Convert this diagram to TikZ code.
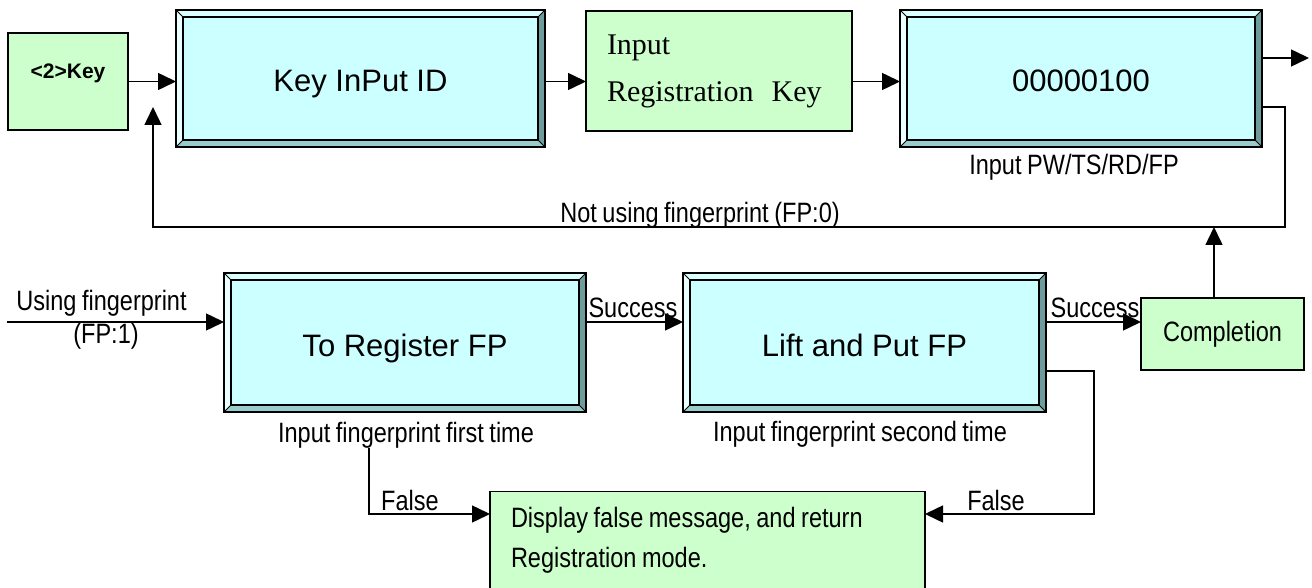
\documentclass[tikz,border=0pt]{standalone}
\usepackage{fontspec}
\setmainfont{Liberation Sans}
\newfontfamily\narrowfont[FakeStretch=0.84,WordSpace=0.85]{Liberation Sans}
\newfontfamily\batangfont{Liberation Serif}
\usetikzlibrary{arrows.meta}
\definecolor{lcdcyan}{HTML}{CCFFFF}
\definecolor{notegreen}{HTML}{CCFFCC}
\definecolor{bvtop}{HTML}{D9FFFF}
\definecolor{bvleft}{HTML}{EAFFFF}
\definecolor{bvbot}{HTML}{99CCCC}
\definecolor{bvright}{HTML}{6E9C9C}
\newcommand{\lcdframe}[1]{%
\fill[bvtop] (#1.north west) -- (#1.north east) -- ([shift={(-7,7)}]#1.north east) -- ([shift={(7,7)}]#1.north west) -- cycle;
\fill[bvleft] (#1.north west) -- ([shift={(7,7)}]#1.north west) -- ([shift={(7,-7)}]#1.south west) -- (#1.south west) -- cycle;
\fill[bvbot] (#1.south west) -- ([shift={(7,-7)}]#1.south west) -- ([shift={(-7,-7)}]#1.south east) -- (#1.south east) -- cycle;
\fill[bvright] (#1.south east) -- ([shift={(-7,-7)}]#1.south east) -- ([shift={(-7,7)}]#1.north east) -- (#1.north east) -- cycle;
\draw[line width=1.5pt] (#1.north west) rectangle (#1.south east);
\draw[line width=1.5pt] ([shift={(7,7)}]#1.north west) rectangle ([shift={(-7,-7)}]#1.south east);
\draw[line width=1pt] (#1.north west) -- ++(7,7) (#1.north east) -- ++(-7,7) (#1.south west) -- ++(7,-7) (#1.south east) -- ++(-7,-7);
}
\begin{document}
\begin{tikzpicture}[x=1pt,y=-1pt,
  every node/.style={inner sep=0pt, outer sep=0pt},
  lcd/.style={fill=lcdcyan, text height=30pt, text depth=3pt, font=\fontsize{31}{37}\selectfont},
  note/.style={draw, line width=1.5pt, fill=notegreen},
  lbl/.style={font=\narrowfont\fontsize{28}{32}\selectfont, anchor=base},
  flow/.style={line width=1.5pt, -{Triangle[length=18pt,width=17pt]}},
  line/.style={line width=1.5pt}]
\useasboundingbox (0,0) rectangle (1312,588);
\node[note, minimum width=120pt, minimum height=97pt, text height=16pt, text depth=21pt, font=\bfseries\fontsize{21}{25}\selectfont] (key) at (68,81.5) {<2>Key};
\node[lcd, minimum width=369pt, minimum height=137pt] (kid) at (360.5,78.5) {Key InPut ID};
\node[note, minimum width=266pt, minimum height=120pt, text width=224pt, align=flush left, font=\batangfont\fontsize{30}{47}\selectfont] (ireg) at (719,71) {Input\\Registration\hspace{0.6em}Key};
\node[lcd, minimum width=362pt, minimum height=137pt] (pw) at (1081,78.5) {00000100};
\node[lbl] (pwtxt) at (1074,175) {Input PW/TS/RD/FP};
\node[lbl] (fp0) at (700,223) {Not using fingerprint (FP:0)};
\node[lcd, minimum width=362pt, minimum height=139pt] (reg) at (405,342.5) {To Register FP};
\node[lcd, minimum width=363pt, minimum height=139pt] (lift) at (864.5,342.5) {Lift and Put FP};
\node[note, minimum width=163pt, minimum height=72pt, font=\narrowfont\fontsize{28}{32}\selectfont] (comp) at (1222.5,334) {Completion};
\node[lbl] (regtxt) at (406,442) {Input fingerprint first time};
\node[lbl] (lifttxt) at (860,441) {Input fingerprint second time};
\node[note, minimum width=435pt, minimum height=97pt, text width=393pt, align=flush left, font=\narrowfont\fontsize{28}{40}\selectfont] (disp) at (707.5,540) {Display false message, and return\\Registration mode.};
\node[lbl] (fp1a) at (101.5,310) {Using fingerprint};
\node[lbl] (fp1b) at (106,343) {(FP:1)};
\node[lbl] (ok1) at (633,317) {Success};
\node[lbl] (ok2) at (1095,317) {Success};
\node[lbl] (no1) at (410,510) {False};
\node[lbl] (no2) at (996,510) {False};
\foreach \b in {kid,pw,reg,lift} {\lcdframe{\b}}
\coordinate (out) at (1309,58);
\coordinate (back) at (153,107);
\coordinate (src) at (7,322);
\draw[flow] (key.east) -- (key.east -| kid.west);
\draw[flow] (kid.east |- key.east) -- (key.east -| ireg.west);
\draw[flow] (ireg.east |- key.east) -- (key.east -| pw.west);
\draw[flow] (pw.east |- out) -- (out);
\draw[flow] (pw.east |- 0,107) -| (1285,227) -| (back);
\draw[flow] (1214,0 |- comp.north) -- (1214,227);
\draw[flow] (src) -- (src -| reg.west);
\draw[flow] (reg.east |- src) -- (src -| lift.west);
\draw[flow] (lift.east |- src) -- (src -| comp.west);
\draw[flow] (369,0 |- regtxt.south) |- (disp.west |- 0,514);
\draw[flow] (lift.east |- 0,371) -| (1094,514) -- (disp.east |- 0,514);
\end{tikzpicture}
\end{document}
